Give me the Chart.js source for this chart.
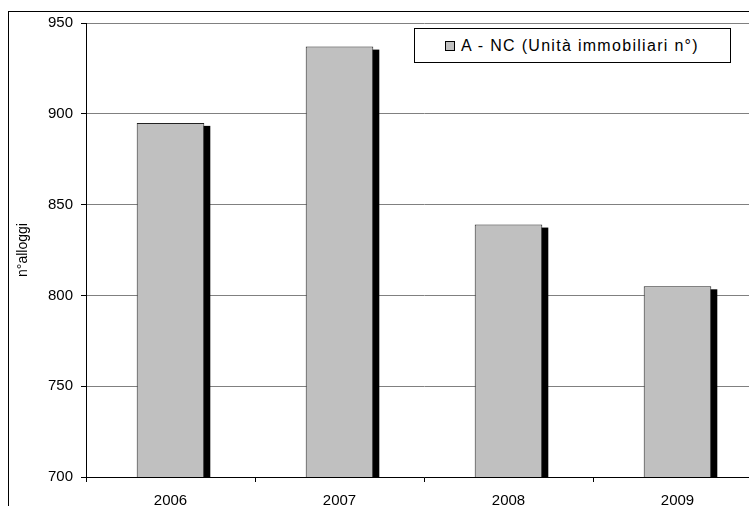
<!DOCTYPE html>
<html>
<head>
<meta charset="utf-8">
<script src="https://cdn.jsdelivr.net/npm/chart.js@4"></script>
<style>
  html, body { margin: 0; padding: 0; overflow: hidden; background: #fff; }
  #frame {
    position: absolute; left: 8px; top: 11px; width: 800px; height: 600px;
    border: 1px solid #000;
  }
  #wrap { position: absolute; left: 0; top: 0; width: 762px; height: 517px; }
  #legend {
    position: absolute; left: 414px; top: 28px; width: 317px; height: 35px;
    box-sizing: border-box; border: 1px solid #000; background: #fff;
    display: flex; align-items: center; padding-left: 30px;
    font: 16px Arial, "Liberation Sans", sans-serif; letter-spacing: 1.3px; color: #000;
  }
  #legend .box {
    width: 8px; height: 8px; background: #c0c0c0; border: 1px solid #000;
    margin-right: 6px; flex: none;
  }
</style>
</head>
<body>
<div id="frame"></div>
<div id="wrap"><canvas id="chart"></canvas></div>
<div id="legend"><span class="box"></span><span>A - NC (Unità immobiliari n°)</span></div>
<script>
const years = ['2006', '2007', '2008', '2009']
const units = [895, 937, 839, 805]
const yMin = 700
const yMax = 950
const yStep = 50

// black drop shadow to the lower right of every bar
const barShadow = {
  id: 'barShadow',
  beforeDatasetsDraw(chart) {
    const { ctx, chartArea } = chart
    ctx.save()
    ctx.beginPath()
    ctx.rect(chartArea.left, chartArea.top, chartArea.width, chartArea.height)
    ctx.clip()
    ctx.fillStyle = '#000'
    chart.getDatasetMeta(0).data.forEach(bar => {
      const { x, y, base, width } = bar.getProps(['x', 'y', 'base', 'width'], true)
      ctx.fillRect(x - width / 2 + 6, y + 3, width, base - y)
    })
    ctx.restore()
  }
}

const font = { family: 'Arial, "Liberation Sans", sans-serif', size: 15 }

new Chart(document.getElementById('chart'), {
  type: 'bar',
  data: {
    labels: years,
    datasets: [{
      label: 'A - NC (Unità immobiliari n°)',
      data: units,
      backgroundColor: '#c0c0c0',
      borderColor: '#222',
      borderWidth: 1,
      borderSkipped: 'bottom',
      categoryPercentage: 1,
      barPercentage: 0.4
    }]
  },
  options: {
    responsive: true,
    maintainAspectRatio: false,
    animation: false,
    layout: { padding: { left: 9, top: 23, right: 0, bottom: 0 } },
    plugins: {
      legend: { display: false },
      tooltip: { enabled: false }
    },
    scales: {
      x: {
        afterFit: scale => { scale.height = 40 },
        grid: {
          offset: true,
          drawOnChartArea: false,
          tickLength: 5,
          tickColor: '#000'
        },
        border: { color: '#000', width: 1 },
        ticks: { color: '#000', font, padding: 10 }
      },
      y: {
        min: yMin,
        max: yMax,
        afterFit: scale => { scale.width = 77 },
        grid: {
          color: '#808080',
          tickLength: 5,
          tickColor: '#000'
        },
        border: { color: '#000', width: 1 },
        ticks: { stepSize: yStep, color: '#000', font, padding: 8 },
        title: {
          display: true,
          text: 'n°alloggi',
          color: '#000',
          font: { family: font.family, size: 14 },
          padding: { top: 6, bottom: 0 }
        }
      }
    }
  },
  plugins: [barShadow]
})
</script>
</body>
</html>
